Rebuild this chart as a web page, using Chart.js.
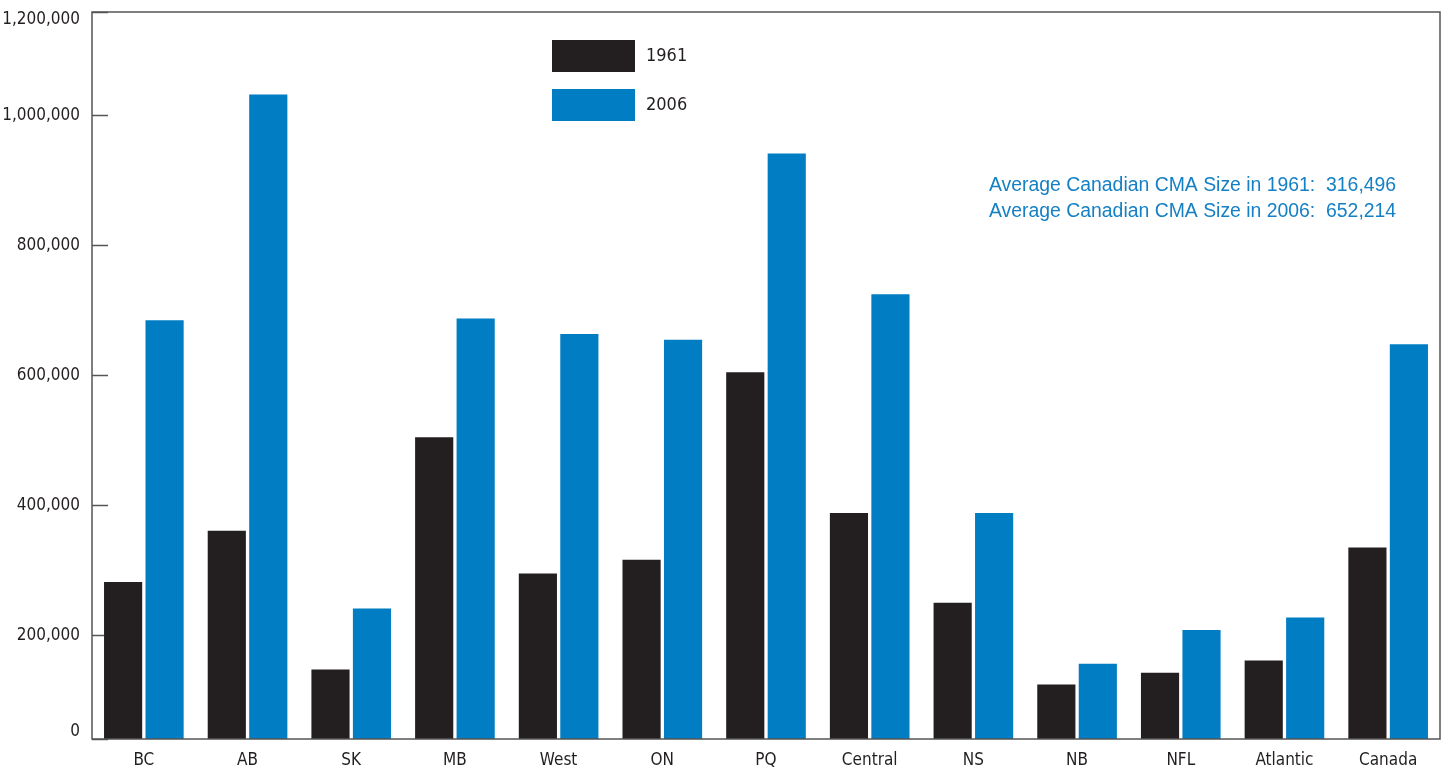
<!DOCTYPE html>
<html>
<head>
<meta charset="utf-8">
<title>Average CMA size, 1961 and 2006</title>
<script src="https://cdn.jsdelivr.net/npm/chart.js@4.4.1/dist/chart.umd.min.js"></script>
<style>
  html, body { margin: 0; padding: 0; background: #ffffff; }
  #chart { display: block; }
</style>
</head>
<body>
<canvas id="chart" width="1444" height="769"></canvas>
<script>
// values
const categories = ["BC", "AB", "SK", "MB", "West", "ON", "PQ", "Central", "NS", "NB", "NFL", "Atlantic", "Canada"];
const series1961 = [282000, 361000, 147000, 505000, 295000, 316000, 605000, 388000, 250000, 124000, 142000, 161000, 335000];
const series2006 = [685000, 1033000, 241000, 688000, 664000, 655000, 942000, 725000, 388000, 156000, 208000, 227000, 648000];
const seriesLabels = ["1961", "2006"];

// the printed axis runs from "0" to "1,200,000", but the ends sit at 40,000 and 1,160,000
const yTickValues = [40000, 200000, 400000, 600000, 800000, 1000000, 1160000];
const yTickLabels = ["0", "200,000", "400,000", "600,000", "800,000", "1,000,000", "1,200,000"];

const averageYears = ["1961", "2006"];
const averageSizes = ["316,496", "652,214"];

const INK = "#231f20";
const BLUE = "#007dc3";
const AXIS = "#555555";
const NARROW = "'Liberation Sans Narrow', 'DejaVu Sans Condensed', 'Arial Narrow', sans-serif";

const frame = {
  id: "frame",
  afterDatasetsDraw(chart) {
    const { ctx, chartArea: a } = chart;
    ctx.save();
    ctx.strokeStyle = AXIS;
    ctx.lineWidth = 1.5;
    ctx.strokeRect(a.left, a.top, a.right - a.left, a.bottom - a.top);
    ctx.restore();
  }
};

const legendBoxes = {
  id: "legendBoxes",
  afterDraw(chart, args, opts) {
    const { ctx } = chart;
    ctx.save();
    ctx.font = `18px ${NARROW}`;
    ctx.textBaseline = "middle";
    chart.data.datasets.forEach((ds, i) => {
      const y = opts.top + i * opts.step;
      ctx.fillStyle = ds.backgroundColor;
      ctx.fillRect(opts.left, y, opts.boxWidth, opts.boxHeight);
      ctx.fillStyle = INK;
      ctx.fillText(ds.label, opts.left + opts.boxWidth + opts.gap, y + opts.boxHeight / 2);
    });
    ctx.restore();
  }
};

const averageNote = {
  id: "averageNote",
  afterDraw(chart, args, opts) {
    const { ctx } = chart;
    ctx.save();
    ctx.font = `${opts.size}px 'Liberation Sans', Arial, sans-serif`;
    ctx.fillStyle = opts.color;
    ctx.textBaseline = "middle";
    averageYears.forEach((year, i) => {
      ctx.fillText(`Average Canadian CMA Size in ${year}:  ${averageSizes[i]}`, opts.left, opts.top + i * opts.step);
    });
    ctx.restore();
  }
};

new Chart(document.getElementById("chart"), {
  type: "bar",
  data: {
    labels: categories,
    datasets: [
      {
        label: seriesLabels[0],
        data: series1961,
        backgroundColor: INK,
        categoryPercentage: 0.8,
        barPercentage: 0.92
      },
      {
        label: seriesLabels[1],
        data: series2006,
        backgroundColor: BLUE,
        categoryPercentage: 0.8,
        barPercentage: 0.92
      }
    ]
  },
  options: {
    responsive: false,
    animation: false,
    devicePixelRatio: 1,
    layout: { padding: { top: 12, right: 4, left: 0, bottom: 0 } },
    scales: {
      x: {
        grid: { display: false, drawTicks: false },
        border: { display: false },
        afterFit(scale) {
          scale.height = 30;
          scale.paddingLeft = 0;
          scale.paddingRight = 0;
        },
        ticks: {
          padding: 11,
          color: INK,
          autoSkip: false,
          maxRotation: 0,
          font: { family: NARROW, size: 17 }
        }
      },
      y: {
        min: 40000,
        max: 1160000,
        afterBuildTicks(scale) {
          scale.ticks = yTickValues.map((value) => ({ value }));
        },
        afterFit(scale) {
          scale.width = 92;
          scale.paddingTop = 0;
          scale.paddingBottom = 0;
        },
        border: { display: false },
        grid: {
          drawOnChartArea: false,
          drawTicks: true,
          tickLength: -16,
          tickColor: AXIS,
          tickWidth: 1.5
        },
        ticks: {
          padding: 28,
          color: INK,
          autoSkip: false,
          font: { family: NARROW, size: 17, lineHeight: 0.9 },
          callback(value) {
            const idx = yTickValues.indexOf(value);
            const label = yTickLabels[idx];
            if (idx === 0) return [label, ""];
            if (idx === yTickValues.length - 1) return ["", label];
            return label;
          }
        }
      }
    },
    plugins: {
      legend: { display: false },
      tooltip: { enabled: false },
      legendBoxes: { left: 552, top: 40, step: 49, boxWidth: 83, boxHeight: 32, gap: 11 },
      averageNote: { left: 989, top: 186, step: 26, size: 19.4, color: "#1580c4" }
    }
  },
  plugins: [frame, legendBoxes, averageNote]
});
</script>
</body>
</html>
